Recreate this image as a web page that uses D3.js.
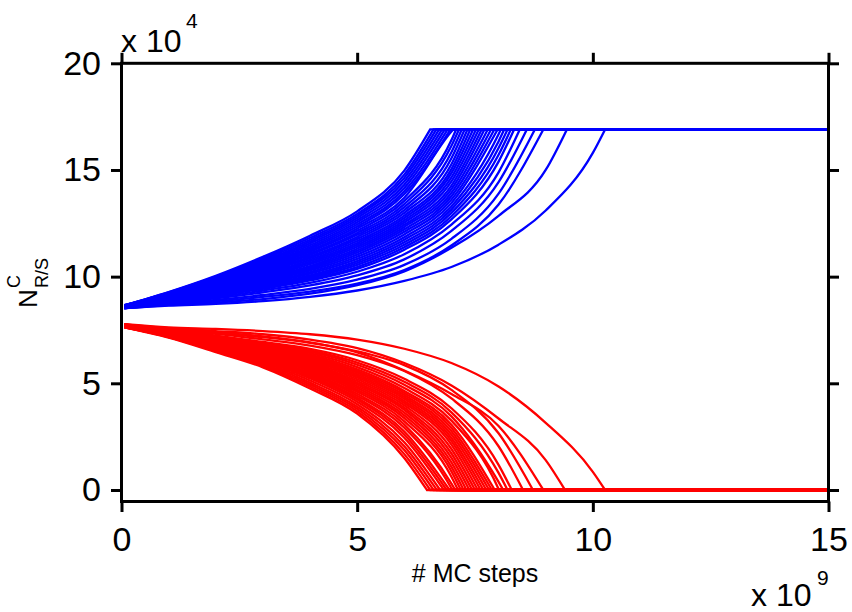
<!DOCTYPE html>
<html>
<head>
<meta charset="utf-8">
<script src="https://cdn.jsdelivr.net/npm/d3@7"></script>
<style>
  html, body { margin: 0; padding: 0; background: #fff; }
  svg { display: block; }
  text { font-family: "Liberation Sans", Arial, Helvetica, sans-serif; fill: #000; }
</style>
</head>
<body>
<svg id="chart" width="852" height="612"></svg>
<script>
// Monte Carlo step grid (x 10^9) on which every run is sampled
const stepGrid = [0.06, 1, 2, 3, 4, 5, 6, 7, 8, 9, 10];

// Blue runs (x 10^4): step at which each run saturates, and its values on stepGrid before that
const blueEnd = [6.55, 6.62, 6.68, 6.74, 6.80, 6.86, 6.92, 6.98, 7.04, 7.10, 7.16, 7.22,
  7.28, 7.34, 7.40, 7.46, 7.52, 7.58, 7.64, 7.70, 7.77, 7.84, 7.91, 7.98, 8.05, 8.12,
  8.19, 8.26, 8.33, 8.45, 8.60, 8.77, 8.95, 9.45, 10.26];
const blueRuns = [
  [8.66, 9.28, 10.04, 10.93, 11.92, 13.06, 14.97],
  [8.65, 9.26, 10.00, 10.86, 11.82, 12.94, 14.78],
  [8.66, 9.24, 9.96, 10.80, 11.73, 12.85, 14.63],
  [8.64, 9.22, 9.92, 10.73, 11.65, 12.75, 14.47],
  [8.65, 9.20, 9.88, 10.67, 11.56, 12.65, 14.31],
  [8.63, 9.18, 9.84, 10.61, 11.47, 12.55, 14.15],
  [8.64, 9.16, 9.81, 10.55, 11.39, 12.45, 14.00],
  [8.62, 9.14, 9.77, 10.50, 11.32, 12.35, 13.87],
  [8.63, 9.13, 9.74, 10.44, 11.24, 12.25, 13.70, 16.80],
  [8.61, 9.11, 9.70, 10.39, 11.17, 12.15, 13.55, 16.40],
  [8.62, 9.09, 9.67, 10.33, 11.09, 12.05, 13.40, 16.13],
  [8.60, 9.07, 9.64, 10.28, 11.02, 11.96, 13.26, 15.83],
  [8.61, 9.06, 9.60, 10.22, 10.94, 11.86, 13.12, 15.55],
  [8.59, 9.04, 9.57, 10.17, 10.87, 11.77, 12.99, 15.27],
  [8.60, 9.03, 9.53, 10.11, 10.79, 11.67, 12.86, 15.04],
  [8.58, 9.01, 9.50, 10.06, 10.72, 11.58, 12.75, 14.85],
  [8.59, 8.99, 9.47, 10.01, 10.65, 11.49, 12.64, 14.65],
  [8.57, 8.98, 9.44, 9.96, 10.58, 11.40, 12.54, 14.46],
  [8.58, 8.96, 9.41, 9.92, 10.50, 11.31, 12.43, 14.27],
  [8.56, 8.95, 9.37, 9.87, 10.43, 11.22, 12.33, 14.10],
  [8.57, 8.93, 9.34, 9.82, 10.36, 11.13, 12.22, 13.93],
  [8.55, 8.92, 9.31, 9.77, 10.29, 11.03, 12.10, 13.77],
  [8.56, 8.90, 9.28, 9.72, 10.21, 10.93, 11.98, 13.61],
  [8.54, 8.89, 9.24, 9.66, 10.14, 10.83, 11.85, 13.45],
  [8.55, 8.87, 9.21, 9.61, 10.06, 10.73, 11.73, 13.29, 16.67],
  [8.53, 8.86, 9.18, 9.57, 10.00, 10.64, 11.61, 13.14, 16.34],
  [8.54, 8.84, 9.15, 9.52, 9.94, 10.55, 11.50, 12.99, 16.03],
  [8.52, 8.83, 9.12, 9.48, 9.88, 10.45, 11.38, 12.83, 15.71],
  [8.53, 8.81, 9.09, 9.43, 9.82, 10.36, 11.26, 12.68, 15.39],
  [8.52, 8.79, 9.04, 9.35, 9.71, 10.23, 11.05, 12.44, 14.89],
  [8.53, 8.76, 8.98, 9.26, 9.59, 10.06, 10.81, 12.14, 14.43],
  [8.52, 8.73, 8.91, 9.14, 9.43, 9.86, 10.55, 11.77, 13.89],
  [8.53, 8.70, 8.85, 9.05, 9.30, 9.67, 10.31, 11.46, 13.38],
  [8.52, 8.67, 8.78, 8.95, 9.20, 9.60, 10.25, 11.35, 12.85, 15.00],
  [8.52, 8.64, 8.72, 8.85, 9.05, 9.35, 9.80, 10.45, 11.50, 13.10, 15.80]
];
const blueLevel = 16.9;

// Red runs (x 10^4): step at which each run dies out, and its values on stepGrid before that
const redEnd = [6.48, 6.55, 6.62, 6.69, 6.76, 6.84, 6.90, 6.96, 7.02, 7.08, 7.14, 7.20,
  7.26, 7.32, 7.38, 7.44, 7.50, 7.56, 7.62, 7.68, 7.74, 7.80, 7.86, 7.92, 8.01, 8.10,
  8.19, 8.28, 8.52, 8.73, 8.95, 9.41, 10.26];
const redRuns = [
  [7.62, 7.14, 6.46, 5.75, 4.76, 3.58, 1.50],
  [7.63, 7.16, 6.50, 5.81, 4.85, 3.69, 1.68],
  [7.62, 7.17, 6.53, 5.86, 4.94, 3.80, 1.87],
  [7.64, 7.19, 6.57, 5.92, 5.03, 3.90, 2.05],
  [7.63, 7.20, 6.61, 5.98, 5.13, 4.02, 2.24],
  [7.65, 7.22, 6.65, 6.04, 5.23, 4.14, 2.45],
  [7.64, 7.23, 6.68, 6.08, 5.30, 4.24, 2.60],
  [7.66, 7.25, 6.71, 6.13, 5.37, 4.32, 2.74],
  [7.65, 7.26, 6.74, 6.17, 5.44, 4.42, 2.92, 0.08],
  [7.67, 7.27, 6.76, 6.21, 5.50, 4.51, 3.07, 0.30],
  [7.66, 7.29, 6.79, 6.26, 5.57, 4.61, 3.22, 0.62],
  [7.68, 7.30, 6.82, 6.30, 5.64, 4.70, 3.37, 0.87],
  [7.67, 7.31, 6.85, 6.34, 5.70, 4.78, 3.50, 1.08],
  [7.69, 7.32, 6.87, 6.38, 5.76, 4.86, 3.63, 1.29],
  [7.68, 7.33, 6.90, 6.42, 5.83, 4.95, 3.76, 1.50],
  [7.70, 7.34, 6.93, 6.46, 5.89, 5.03, 3.86, 1.71],
  [7.69, 7.35, 6.95, 6.50, 5.95, 5.11, 3.97, 1.92],
  [7.71, 7.36, 6.98, 6.54, 6.01, 5.19, 4.08, 2.13],
  [7.70, 7.37, 7.00, 6.58, 6.07, 5.27, 4.17, 2.29],
  [7.72, 7.38, 7.03, 6.61, 6.12, 5.34, 4.27, 2.44],
  [7.71, 7.39, 7.05, 6.65, 6.18, 5.42, 4.36, 2.60],
  [7.73, 7.40, 7.07, 6.68, 6.23, 5.50, 4.45, 2.75],
  [7.72, 7.41, 7.10, 6.72, 6.29, 5.57, 4.55, 2.91],
  [7.74, 7.42, 7.12, 6.75, 6.34, 5.65, 4.64, 3.06],
  [7.73, 7.44, 7.15, 6.80, 6.41, 5.76, 4.78, 3.25, 0.05],
  [7.75, 7.45, 7.18, 6.85, 6.48, 5.87, 4.93, 3.45, 0.38],
  [7.74, 7.47, 7.21, 6.89, 6.54, 5.97, 5.07, 3.64, 0.80],
  [7.76, 7.48, 7.24, 6.94, 6.61, 6.08, 5.21, 3.83, 1.18],
  [7.75, 7.51, 7.32, 7.06, 6.77, 6.32, 5.58, 4.29, 2.05],
  [7.76, 7.54, 7.37, 7.16, 6.90, 6.50, 5.85, 4.69, 2.66],
  [7.75, 7.56, 7.40, 7.20, 6.92, 6.45, 5.60, 4.50, 3.00],
  [7.76, 7.58, 7.45, 7.30, 7.05, 6.65, 5.95, 4.90, 3.35, 1.40],
  [7.77, 7.62, 7.55, 7.45, 7.30, 7.05, 6.62, 5.95, 4.85, 3.15, 0.85]
];
const redLevel = 0;

// Axis ticks
const xTicks = [0, 5, 10, 15];
const yTicks = [0, 5, 10, 15, 20];

const svg = d3.select("#chart");
const frame = { left: 121.5, right: 828.5, top: 63.3, bottom: 501.5 };

const x = d3.scaleLinear().domain([0, 15]).range([frame.left, frame.right]);
const y = d3.scaleLinear().domain([-0.54, 20]).range([frame.bottom, frame.top]);

svg.append("defs").append("clipPath").attr("id", "plotClip")
  .append("rect")
  .attr("x", frame.left).attr("y", frame.top)
  .attr("width", frame.right - frame.left).attr("height", frame.bottom - frame.top);

const line = d3.line()
  .x(d => x(d[0]))
  .y(d => y(d[1]))
  .curve(d3.curveMonotoneX);

// One run: smooth rise/decay up to its end step, then a flat plateau to the last step
function runPath(vals, end, level) {
  const pts = vals.map((v, i) => [stepGrid[i], v]);
  pts.push([end, level]);
  return line(pts) + "L" + x(15) + "," + y(level);
}

const plot = svg.append("g").attr("clip-path", "url(#plotClip)");

plot.append("g").selectAll("path")
  .data(redRuns)
  .join("path")
  .attr("d", (d, i) => runPath(d, redEnd[i], redLevel))
  .attr("fill", "none")
  .attr("stroke", "#ff0000")
  .attr("stroke-width", 2.3);

plot.append("g").selectAll("path")
  .data(blueRuns)
  .join("path")
  .attr("d", (d, i) => runPath(d, blueEnd[i], blueLevel))
  .attr("fill", "none")
  .attr("stroke", "#0000ff")
  .attr("stroke-width", 2.3);

// Axes box
svg.append("rect")
  .attr("x", frame.left).attr("y", frame.top)
  .attr("width", frame.right - frame.left).attr("height", frame.bottom - frame.top)
  .attr("fill", "none").attr("stroke", "#000").attr("stroke-width", 3);

const tickLen = 10.5;
const tickFont = 34;

function styleAxis(g) {
  g.select(".domain").remove();
  g.selectAll(".tick line").attr("stroke", "#000").attr("stroke-width", 3);
  g.selectAll(".tick text")
    .attr("font-size", tickFont)
    .attr("font-family", "'Liberation Sans', Arial, sans-serif")
    .attr("fill", "#000");
}

svg.append("g")
  .attr("transform", `translate(0,${frame.bottom})`)
  .call(d3.axisBottom(x).tickValues(xTicks).tickSize(tickLen).tickPadding(15).tickFormat(d3.format("d")))
  .call(styleAxis);

svg.append("g")
  .attr("transform", `translate(0,${frame.top})`)
  .call(d3.axisTop(x).tickValues(xTicks).tickSize(tickLen).tickFormat(() => ""))
  .call(styleAxis);

svg.append("g")
  .attr("transform", `translate(${frame.left},0)`)
  .call(d3.axisLeft(y).tickValues(yTicks).tickSize(tickLen).tickPadding(10).tickFormat(d3.format("d")))
  .call(styleAxis);

svg.append("g")
  .attr("transform", `translate(${frame.right},0)`)
  .call(d3.axisRight(y).tickValues(yTicks).tickSize(tickLen).tickFormat(() => ""))
  .call(styleAxis);

// Exponent annotations
svg.append("text").attr("x", 121).attr("y", 52.3).attr("font-size", 32).text("x 10");
svg.append("text").attr("x", 186).attr("y", 28.3).attr("font-size", 21).text("4");

svg.append("text").attr("x", 751).attr("y", 606).attr("font-size", 32).text("x 10");
svg.append("text").attr("x", 817).attr("y", 585).attr("font-size", 21).text("9");

// Axis titles
svg.append("text")
  .attr("x", (frame.left + frame.right) / 2)
  .attr("y", 582)
  .attr("text-anchor", "middle")
  .attr("font-size", 25)
  .text("# MC steps");

const yTitle = svg.append("g").attr("transform", "translate(37,308) rotate(-90)");
yTitle.append("text").attr("x", 0).attr("y", 0).attr("font-size", 26).text("N");
yTitle.append("text").attr("x", 20).attr("y", 11).attr("font-size", 18).text("R/S");
yTitle.append("text").attr("x", 20).attr("y", -17).attr("font-size", 18).text("C");
</script>
</body>
</html>
